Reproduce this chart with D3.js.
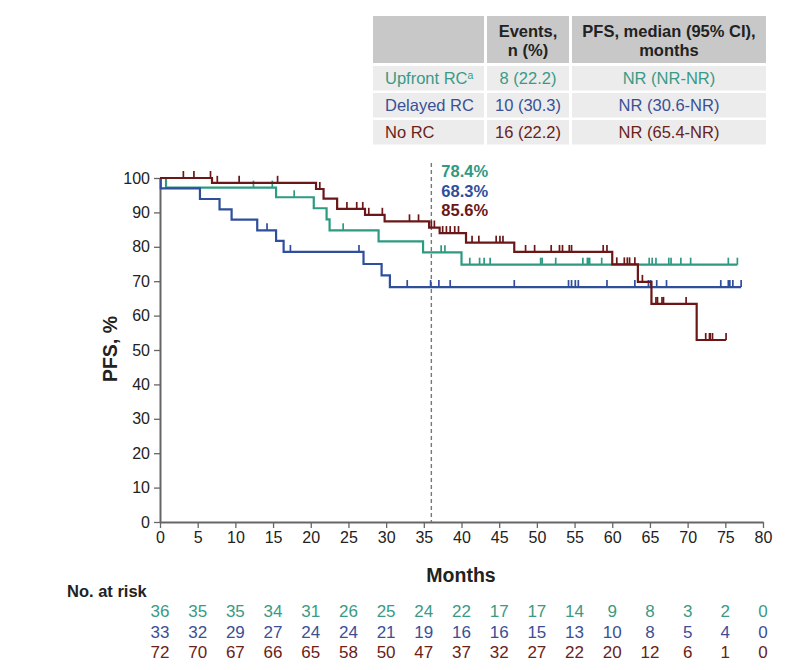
<!DOCTYPE html>
<html>
<head>
<meta charset="utf-8">
<script src="https://cdn.jsdelivr.net/npm/d3@7"></script>
<style>
  html, body { margin: 0; padding: 0; background: #ffffff; }
  svg text { font-family: "Liberation Sans", Arial, Helvetica, sans-serif; }
</style>
</head>
<body>
<svg id="chart" width="812" height="670"></svg>
<script>
// ---------------- DATA ----------------
const groups = ["Upfront RC", "Delayed RC", "No RC"];
const groupSup = ["a", "", ""];
const eventsText = ["8 (22.2)", "10 (30.3)", "16 (22.2)"];
const medianText = ["NR (NR-NR)", "NR (30.6-NR)", "NR (65.4-NR)"];
const landmarkText = ["78.4%", "68.3%", "85.6%"];
const landmarkMonth = 36;

// Kaplan-Meier steps (event times in months, survival % after each step)
const upfrontTimes = [0, 0.8, 15.4, 20.4, 22.1, 22.5, 29.0, 34.9, 40.0];
const upfrontSurv  = [100, 97.2, 94.4, 91.2, 88.0, 84.8, 81.6, 78.4, 74.8];
const upfrontEnd = 76.6;
const upfrontCensor = [12.4, 14.9, 17.8, 24.3, 37.3, 37.8, 41.1, 42.4, 43.0, 43.8, 50.5, 50.7, 52.5,
  56.1, 56.7, 56.8, 57.0, 58.6, 64.9, 65.3, 65.8, 67.5, 67.8, 69.1, 70.4, 75.4, 76.6];

const delayedTimes = [0, 0.1, 5.3, 7.9, 9.5, 12.9, 15.4, 16.4, 27.0, 29.4, 30.5];
const delayedSurv  = [100, 97.0, 93.9, 90.9, 87.9, 84.8, 81.7, 78.5, 75.0, 71.7, 68.3];
const delayedEnd = 77.1;
const delayedCensor = [14.2, 17.3, 26.4, 32.8, 35.9, 37.0, 38.5, 47.0, 54.2, 54.6, 55.1, 55.5, 59.3,
  63.0, 64.8, 65.1, 65.9, 67.2, 74.4, 75.4, 75.6, 76.0, 77.1];

const noRcTimes = [0, 6.9, 20.7, 21.7, 23.5, 27.2, 29.8, 35.7, 37.1, 40.6, 47.0, 60.0, 63.4, 65.2, 71.2];
const noRcSurv  = [100, 98.6, 96.8, 94.0, 91.0, 89.3, 87.4, 85.6, 84.0, 81.2, 78.5, 74.9, 69.8, 63.4, 52.9];
const noRcEnd = 75.1;
const noRcCensor = [3.1, 4.5, 6.7, 7.6, 10.5, 15.6, 21.2, 24.8, 26.1, 26.9, 27.7, 29.5, 33.1, 34.3,
  36.0, 36.4, 37.5, 38.0, 38.5, 39.1, 39.6, 41.4, 42.3, 44.6, 45.1, 45.5, 48.5, 49.7, 51.9, 53.0,
  53.4, 54.3, 54.6, 58.8, 59.3, 60.6, 61.6, 62.0, 62.3, 63.0, 64.0, 65.8, 66.0, 66.6, 66.8, 69.8,
  72.4, 72.9, 73.0, 73.3, 75.1];

// Number at risk
const riskMonths = [0, 5, 10, 15, 20, 25, 30, 35, 40, 45, 50, 55, 60, 65, 70, 75, 80];
const riskUpfront = [36, 35, 35, 34, 31, 26, 25, 24, 22, 17, 17, 14, 9, 8, 3, 2, 0];
const riskDelayed = [33, 32, 29, 27, 24, 24, 21, 19, 16, 16, 15, 13, 10, 8, 5, 4, 0];
const riskNoRc    = [72, 70, 67, 66, 65, 58, 50, 47, 37, 32, 27, 22, 20, 12, 6, 1, 0];

const xTicks = d3.range(0, 81, 5);
const yTicks = d3.range(0, 101, 10);

// ---------------- STYLE ----------------
const colors = ["#2e9a82", "#2f4e9c", "#6b1717"];
const textColors = ["#3a9a85", "#3a5096", "#6a2219"];
const axisColor = "#666666";

const series = [
  { times: upfrontTimes, surv: upfrontSurv, end: upfrontEnd, censor: upfrontCensor, risk: riskUpfront },
  { times: delayedTimes, surv: delayedSurv, end: delayedEnd, censor: delayedCensor, risk: riskDelayed },
  { times: noRcTimes, surv: noRcSurv, end: noRcEnd, censor: noRcCensor, risk: riskNoRc }
];

const svg = d3.select("#chart");
const x = d3.scaleLinear().domain([0, 80]).range([160, 763]);
const y = d3.scaleLinear().domain([0, 100]).range([522, 178]);

// ---------------- TABLE ----------------
const colX = [373, 487, 572];
const colW = [111, 82, 194];
const headTop = 16, headH = 47;
const rowTops = [66, 93, 120], rowH = 24.5;
const tbl = svg.append("g");
colX.forEach((cx, i) => {
  tbl.append("rect").attr("x", cx).attr("y", headTop).attr("width", colW[i]).attr("height", headH)
    .attr("fill", "#c8c8c8");
  rowTops.forEach(rt => {
    tbl.append("rect").attr("x", cx).attr("y", rt).attr("width", colW[i]).attr("height", rowH)
      .attr("fill", "#ececec");
  });
});
const headStyle = t => t.attr("font-size", 16.5).attr("font-weight", "bold").attr("fill", "#222")
  .attr("text-anchor", "middle");
tbl.append("text").attr("x", colX[1] + colW[1] / 2).attr("y", 37).text("Events,").call(headStyle);
tbl.append("text").attr("x", colX[1] + colW[1] / 2).attr("y", 56).text("n (%)").call(headStyle);
tbl.append("text").attr("x", colX[2] + colW[2] / 2).attr("y", 37).text("PFS, median (95% CI),").call(headStyle);
tbl.append("text").attr("x", colX[2] + colW[2] / 2).attr("y", 56).text("months").call(headStyle);

groups.forEach((g, i) => {
  const base = rowTops[i] + 18;
  const t = tbl.append("text").attr("x", 385).attr("y", base).attr("font-size", 16.5)
    .attr("fill", textColors[i]).text(g);
  if (groupSup[i]) {
    t.append("tspan").attr("font-size", 10.5).attr("dy", -5).text(groupSup[i]);
  }
  tbl.append("text").attr("x", colX[1] + colW[1] / 2).attr("y", base).attr("font-size", 16.5)
    .attr("text-anchor", "middle").attr("fill", textColors[i]).text(eventsText[i]);
  tbl.append("text").attr("x", colX[2] + colW[2] / 2).attr("y", base).attr("font-size", 16.5)
    .attr("text-anchor", "middle").attr("fill", textColors[i]).text(medianText[i]);
});

// ---------------- AXES ----------------
const yAxis = svg.append("g").attr("transform", `translate(${x(0)},0)`)
  .call(d3.axisLeft(y).tickValues(yTicks).tickSize(6).tickPadding(4).tickSizeOuter(0));
const xAxis = svg.append("g").attr("transform", `translate(0,${y(0)})`)
  .call(d3.axisBottom(x).tickValues(xTicks).tickSize(6).tickPadding(4).tickSizeOuter(0));
[yAxis, xAxis].forEach(a => {
  a.select(".domain").attr("stroke", axisColor).attr("stroke-width", 2);
  a.selectAll(".tick line").attr("stroke", axisColor).attr("stroke-width", 1.3);
  a.selectAll(".tick text").attr("fill", "#222").attr("font-size", 16)
    .attr("font-family", "'Liberation Sans', Arial, sans-serif");
});

svg.append("text").attr("x", 461).attr("y", 582).attr("text-anchor", "middle")
  .attr("font-size", 19.5).attr("font-weight", "bold").attr("fill", "#222").text("Months");
svg.append("text").attr("transform", "translate(117,349) rotate(-90)").attr("text-anchor", "middle")
  .attr("font-size", 19.5).attr("font-weight", "bold").attr("fill", "#222").text("PFS, %");

// ---------------- LANDMARK LINE ----------------
svg.append("line").attr("x1", x(landmarkMonth)).attr("x2", x(landmarkMonth))
  .attr("y1", 163).attr("y2", y(0)).attr("stroke", "#777").attr("stroke-width", 1.4)
  .attr("stroke-dasharray", "4,3");
landmarkText.forEach((t, i) => {
  svg.append("text").attr("x", x(landmarkMonth) + 10).attr("y", 177 + i * 19.5)
    .attr("font-size", 16.5).attr("font-weight", "bold").attr("fill", colors[i]).text(t);
});

// ---------------- CURVES ----------------
function survAt(s, t) {
  let v = s.surv[0];
  for (let i = 0; i < s.times.length; i++) { if (s.times[i] <= t) v = s.surv[i]; }
  return v;
}
[0, 1, 2].forEach(i => {
  const s = series[i];
  let d = `M${x(0)},${y(s.surv[0])}`;
  for (let k = 1; k < s.times.length; k++) {
    d += `H${x(s.times[k])}V${y(s.surv[k])}`;
  }
  d += `H${x(s.end)}`;
  svg.append("path").attr("d", d).attr("fill", "none").attr("stroke", colors[i])
    .attr("stroke-width", 2.2).attr("stroke-linejoin", "miter");
  svg.append("g").selectAll("line").data(s.censor).join("line")
    .attr("x1", t => x(t)).attr("x2", t => x(t))
    .attr("y1", t => y(survAt(s, t))).attr("y2", t => y(survAt(s, t)) - 7)
    .attr("stroke", colors[i]).attr("stroke-width", 1.7);
});

// ---------------- NUMBER AT RISK ----------------
svg.append("text").attr("x", 67).attr("y", 597).attr("font-size", 16.5).attr("font-weight", "bold")
  .attr("fill", "#222").text("No. at risk");
series.forEach((s, i) => {
  svg.append("g").selectAll("text").data(riskMonths).join("text")
    .attr("x", m => x(m)).attr("y", 617 + i * 20.5).attr("text-anchor", "middle")
    .attr("font-size", 17).attr("fill", textColors[i])
    .text((m, k) => s.risk[k]);
});
</script>
</body>
</html>
